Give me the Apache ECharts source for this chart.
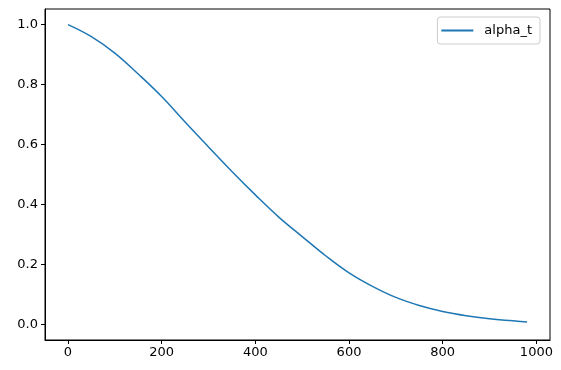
<!DOCTYPE html>
<html>
<head>
<meta charset="utf-8">
<script src="https://cdn.jsdelivr.net/npm/echarts@6/dist/echarts.min.js"></script>
<style>
html,body{margin:0;padding:0;background:#fff;}
#c{width:561px;height:370px;}
</style>
</head>
<body>
<div id="c"></div>
<script>
// Data
var steps  = [0, 50, 100, 150, 200, 250, 300, 350, 400, 450, 500, 550, 600, 650, 700, 750, 800, 850, 900, 950, 980];
var alphaT = [1.000, 0.960, 0.905, 0.835, 0.760, 0.675, 0.592, 0.510, 0.432, 0.358, 0.293, 0.229, 0.172, 0.127, 0.090, 0.063, 0.043, 0.029, 0.019, 0.012, 0.008];
var xTicks = [0, 200, 400, 600, 800, 1000];
var yTicks = [0, 0.2, 0.4, 0.6, 0.8, 1.0];
var seriesName = 'alpha_t';

var pts = steps.map(function (s, i) { return [s, alphaT[i]]; });
var font = 'DejaVu Sans';
var chart = echarts.init(document.getElementById('c'), null, {renderer: 'canvas'});
chart.setOption({
  animation: false,
  backgroundColor: '#fff',
  grid: {left: 45, right: 11, top: 9, bottom: 30, show: true, borderColor: '#000', borderWidth: 1, backgroundColor: 'transparent'},
  legend: {
    data: [seriesName], right: 21, top: 17,
    backgroundColor: '#fff', borderColor: '#cccccc', borderWidth: 1, borderRadius: 3,
    padding: [7, 8, 7, 4], icon: 'rect', itemWidth: 32, itemHeight: 2, itemGap: 10,
    textStyle: {fontFamily: font, fontSize: 13, color: '#000', padding: [0, 0, 0, 6]}
  },
  xAxis: {
    type: 'value', min: -49, max: 1029,
    axisLine: {show: true, onZero: false, lineStyle: {color: '#000', width: 1}},
    axisTick: {show: true, inside: false, length: 4, customValues: xTicks, lineStyle: {color: '#000'}},
    axisLabel: {customValues: xTicks, fontFamily: font, fontSize: 13, color: '#000', margin: 6,
      formatter: function (v) { return String(v); }},
    splitLine: {show: false}
  },
  yAxis: {
    type: 'value', min: -0.052, max: 1.052,
    axisLine: {show: true, onZero: false, lineStyle: {color: '#000', width: 1}},
    axisTick: {show: true, inside: false, length: 4, customValues: yTicks, lineStyle: {color: '#000'}},
    axisLabel: {customValues: yTicks, fontFamily: font, fontSize: 13, color: '#000', margin: 7,
      formatter: function (v) { return v.toFixed(1); }},
    splitLine: {show: false}
  },
  series: [{
    name: seriesName, type: 'line', data: pts, smooth: 0.4, showSymbol: false,
    lineStyle: {color: '#1f77b4', width: 1.5}, itemStyle: {color: '#1f77b4'}
  }]
});
</script>
</body>
</html>
